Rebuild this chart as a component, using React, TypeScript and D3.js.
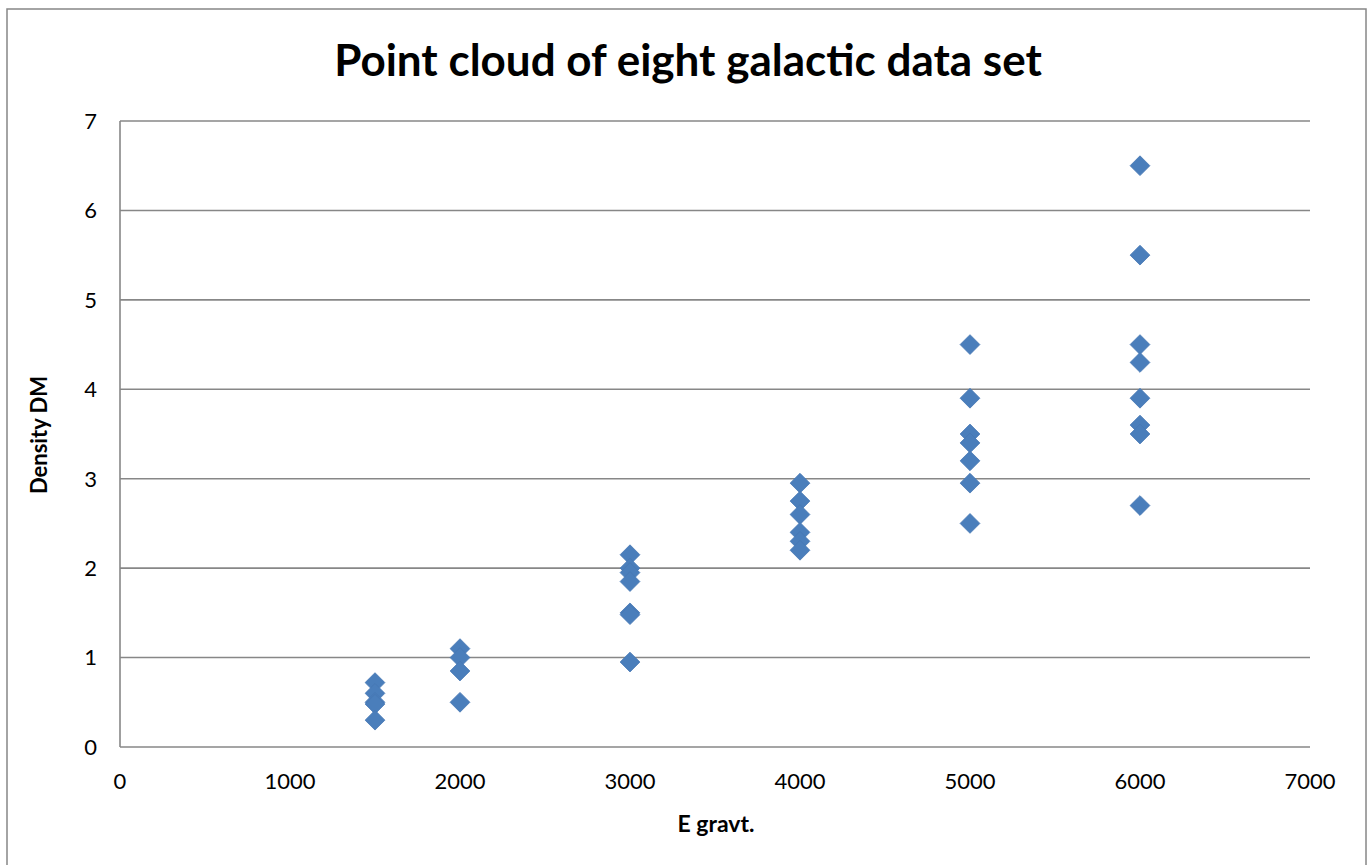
import React from "react";
import * as d3 from "d3";

const title = "Point cloud of eight galactic data set";
const xLabel = "E gravt.";
const yLabel = "Density DM";
const xTicks = [0, 1000, 2000, 3000, 4000, 5000, 6000, 7000];
const yTicks = [0, 1, 2, 3, 4, 5, 6, 7];

const egravt = [
  1500, 1500, 1500, 1500, 1500,
  2000, 2000, 2000, 2000,
  3000, 3000, 3000, 3000, 3000, 3000, 3000,
  4000, 4000, 4000, 4000, 4000, 4000,
  5000, 5000, 5000, 5000, 5000, 5000, 5000,
  6000, 6000, 6000, 6000, 6000, 6000, 6000, 6000,
];
const densityDM = [
  0.72, 0.6, 0.5, 0.48, 0.3,
  1.1, 1.0, 0.85, 0.5,
  2.15, 2.0, 1.95, 1.85, 1.5, 1.48, 0.95,
  2.95, 2.75, 2.6, 2.4, 2.3, 2.2,
  4.5, 3.9, 3.5, 3.4, 3.2, 2.95, 2.5,
  6.5, 5.5, 4.5, 4.3, 3.9, 3.6, 3.5, 2.7,
];

const W = 1368;
const H = 865;
const m = { left: 120, right: 1310, top: 121, bottom: 747 };

export default function App() {
  const x = d3.scaleLinear().domain([0, 7000]).range([m.left, m.right]);
  const y = d3.scaleLinear().domain([0, 7]).range([m.bottom, m.top]);
  const diamond = d3.symbol().type(d3.symbolDiamond2).size(250)();
  const font = "Lato, 'Open Sans', sans-serif";
  const grid = "#878787";
  const points = egravt.map((e, i) => ({ e, d: densityDM[i] }));

  return (
    <svg
      width={W}
      height={H}
      style={{ position: "absolute", left: 0, top: 0, background: "#fff" }}
      fontFamily={font}
    >
      <rect x={7} y={9} width={1359} height={880} fill="#fff" stroke={grid} strokeWidth={1.5} />
      {yTicks.map((t) => (
        <line
          key={"g" + t}
          x1={m.left}
          x2={m.right}
          y1={y(t)}
          y2={y(t)}
          stroke={grid}
          strokeWidth={1.6}
        />
      ))}
      <line x1={m.left} x2={m.left} y1={m.top} y2={m.bottom} stroke={grid} strokeWidth={1.6} />
      {yTicks.map((t) => (
        <text
          key={"y" + t}
          x={97}
          y={y(t)}
          dy="0.36em"
          textAnchor="end"
          fontSize={22}
          fill="#000"
        >
          {t}
        </text>
      ))}
      {xTicks.map((t) => (
        <text
          key={"x" + t}
          x={x(t)}
          y={789}
          textAnchor="middle"
          fontSize={22}
          fill="#000"
        >
          {t}
        </text>
      ))}
      {points.map((p, i) => (
        <path
          key={"p" + i}
          d={diamond}
          transform={`translate(${x(p.e)},${y(p.d)})`}
          fill="#4A7EBB"
          stroke="#4677b4"
          strokeWidth={0.8}
        />
      ))}
      <text
        x={688}
        y={76}
        textAnchor="middle"
        fontSize={44}
        fontWeight="bold"
        fill="#000"
      >
        {title}
      </text>
      <text
        x={716}
        y={832}
        textAnchor="middle"
        fontSize={23}
        fontWeight="bold"
        fill="#000"
      >
        {xLabel}
      </text>
      <text
        transform={`translate(39,435) rotate(-90)`}
        textAnchor="middle"
        fontSize={22}
        fontWeight="bold"
        dy="0.36em"
        fill="#000"
      >
        {yLabel}
      </text>
    </svg>
  );
}
